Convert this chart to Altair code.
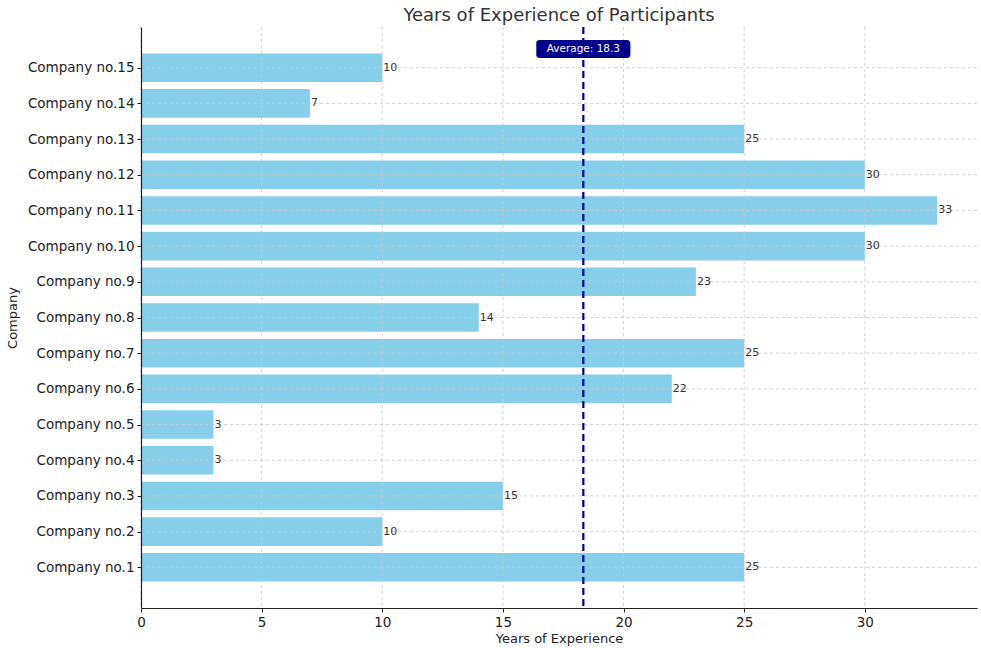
import altair as alt
import pandas as pd

# Years of experience reported by each company
companies = [f"Company no.{i}" for i in range(1, 16)]
company_index = list(range(1, 16))
years = [25, 10, 15, 3, 3, 22, 25, 14, 23, 30, 33, 30, 25, 7, 10]
x_ticks = [0, 5, 10, 15, 20, 25, 30]

df = pd.DataFrame({"company": companies, "idx": company_index, "years": years})
df["lo"] = df["idx"] - 0.4
df["hi"] = df["idx"] + 0.4

avg = float(df["years"].mean())
avg_df = pd.DataFrame({"avg": [avg], "label": [f"Average: {avg:.1f}"],
                       "lo": [avg - 1.95], "hi": [avg + 1.95]})

FONT = "DejaVu Sans"
x_scale = alt.Scale(domain=[0, 34.65], nice=False, zero=False)
y_scale = alt.Scale(domain=[-0.14, 16.14], nice=False, zero=False)

common_axis = dict(grid=False, domainColor="#222", domainWidth=1.2, tickColor="#222",
                   tickSize=4, labelFontSize=13.5, labelColor="#222",
                   labelFont=FONT, titleFont=FONT, titleFontSize=13,
                   titleFontWeight="normal", titleColor="#222",
                   labelPadding=3, labelFlush=False, zindex=1)

bars = alt.Chart(df).mark_rect(color="#87CEEB").encode(
    x=alt.X("years:Q", scale=x_scale,
            axis=alt.Axis(title="Years of Experience", values=x_ticks,
                          titlePadding=4, **common_axis)),
    x2=alt.value(0),
    y=alt.Y("lo:Q", scale=y_scale,
            axis=alt.Axis(title="Company", values=company_index,
                          labelExpr="'Company no.' + datum.value",
                          titlePadding=8, **common_axis)),
    y2="hi:Q",
)

# dashed grid drawn above the bars, below the average annotation
grid_style = dict(color="#c8c8c8", strokeWidth=0.8, strokeDash=[3, 3])
x_grid = alt.Chart(pd.DataFrame({"t": x_ticks})).mark_rule(**grid_style).encode(
    x=alt.X("t:Q", scale=x_scale))
y_grid = alt.Chart(pd.DataFrame({"t": company_index})).mark_rule(**grid_style).encode(
    y=alt.Y("t:Q", scale=y_scale))

values = alt.Chart(df).mark_text(align="left", baseline="middle", dx=1,
                                 fontSize=11, font=FONT, color="#333").encode(
    x=alt.X("years:Q", scale=x_scale),
    y=alt.Y("idx:Q", scale=y_scale),
    text="years:Q",
)

avg_line = alt.Chart(avg_df).mark_rule(color="#00008B", strokeWidth=2.2,
                                       strokeDash=[7, 4]).encode(
    x=alt.X("avg:Q", scale=x_scale),
)

avg_box = alt.Chart(avg_df).mark_rect(color="#00008B", cornerRadius=3).encode(
    x=alt.X("lo:Q", scale=x_scale),
    x2="hi:Q",
    y=alt.value(13),
    y2=alt.value(31),
)

avg_text = alt.Chart(avg_df).mark_text(color="white", fontSize=10.5, font=FONT,
                                       baseline="middle").encode(
    x=alt.X("avg:Q", scale=x_scale),
    y=alt.value(22),
    text="label:N",
)

chart = alt.layer(bars, x_grid, y_grid, values, avg_line, avg_box, avg_text).properties(
    width=836,
    height=581,
    background="white",
    title=alt.TitleParams("Years of Experience of Participants", fontSize=18,
                          font=FONT, fontWeight="normal", color="#333", offset=1),
    autosize=alt.AutoSizeParams(type="none"),
    padding={"left": 141, "top": 27, "right": 4, "bottom": 40},
).configure_view(stroke=None, strokeWidth=0)

chart.save("out.html", embed_options={"renderer": "svg", "actions": False})
